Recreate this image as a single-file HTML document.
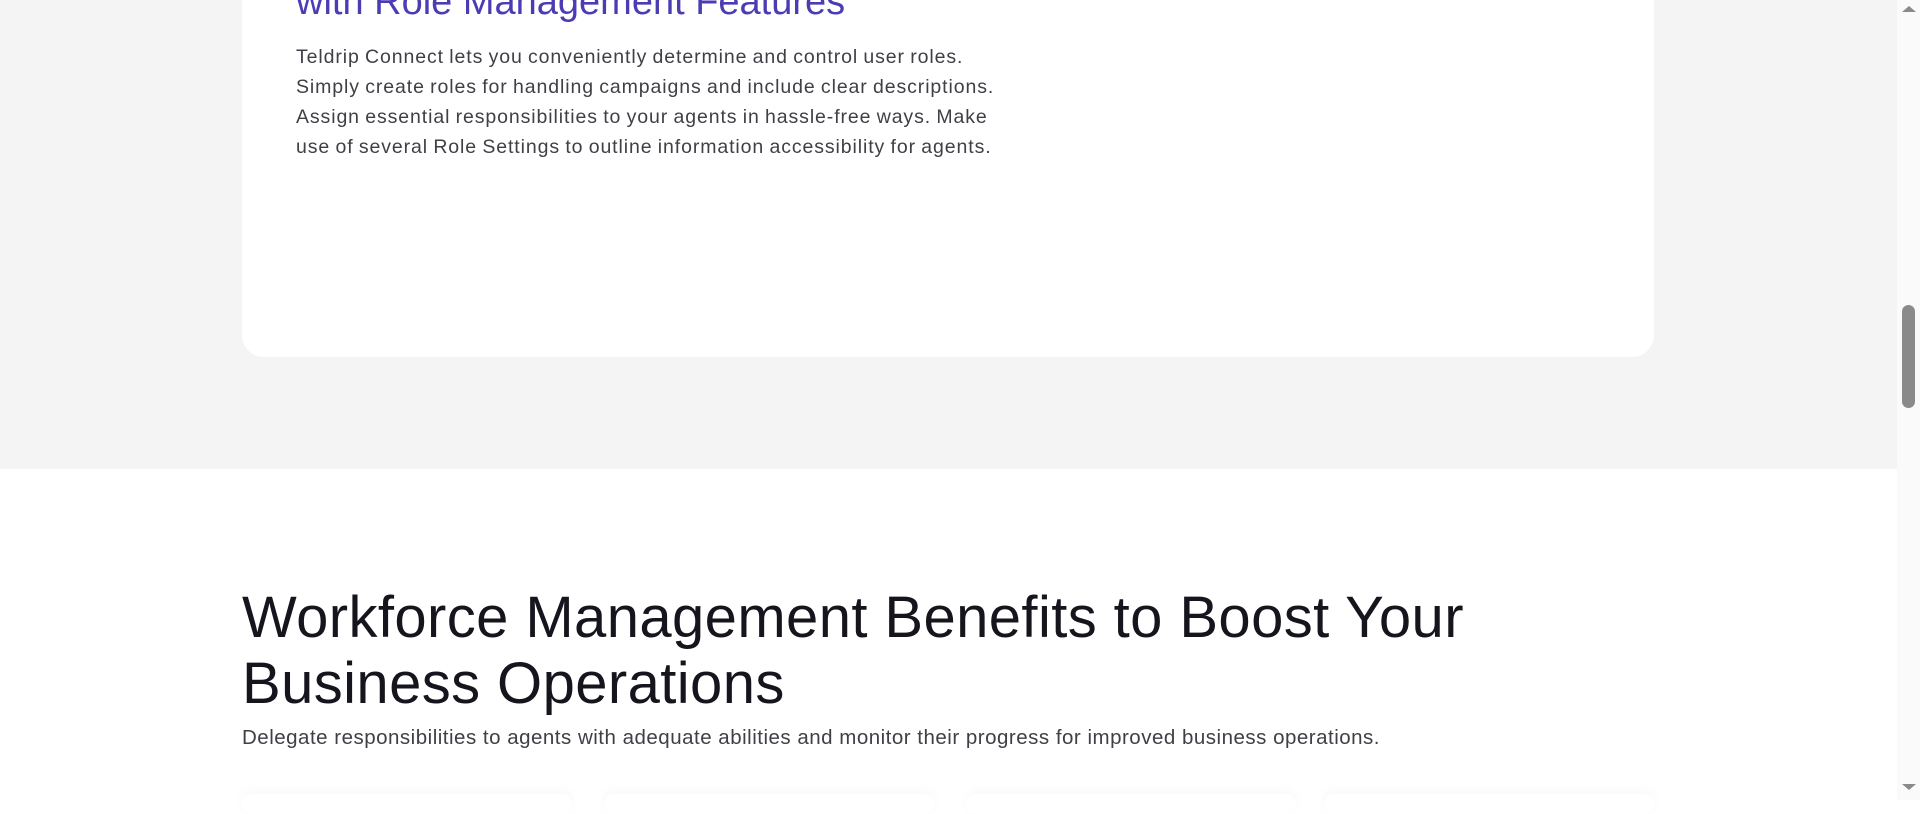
<!DOCTYPE html>
<html><head><style>
html,body{margin:0;padding:0;width:1920px;height:800px;overflow:hidden;background:#fff;font-family:"Liberation Sans",sans-serif;}
.gray{position:absolute;left:0;top:0;width:1897px;height:469px;background:#f4f4f4;}
.card{position:absolute;left:242px;top:-40px;width:1412px;height:397px;background:#fff;border-radius:22px;}
.h3{position:absolute;left:296px;top:-19px;font-size:38px;color:#4b3cb4;font-weight:500;white-space:nowrap;}
.p{position:absolute;left:296px;top:42px;font-size:19.5px;line-height:30px;color:#3f3f46;letter-spacing:0.9px;word-spacing:-1px;}
.h2{position:absolute;left:242px;top:585px;font-size:58px;line-height:66px;color:#16151d;font-weight:500;letter-spacing:0.4px;}
.sub{position:absolute;left:242px;top:726px;font-size:20.5px;color:#3f3f46;letter-spacing:0.5px;white-space:nowrap;}
.sb{position:absolute;left:1897px;top:0;width:23px;height:800px;background:#fafafa;}
.thumb{position:absolute;left:1902px;top:305px;width:13px;height:103px;background:#8a8a8a;border-radius:7px;}
.up{position:absolute;left:1902px;top:6px;width:0;height:0;border-left:7px solid transparent;border-right:7px solid transparent;border-bottom:6px solid #8a8a8a;}
.dn{position:absolute;left:1902px;top:784px;width:0;height:0;border-left:7px solid transparent;border-right:7px solid transparent;border-top:6px solid #8a8a8a;}
.c{position:absolute;top:794px;height:20px;width:330px;background:#fff;box-shadow:0 -3px 12px rgba(0,0,0,0.03);border-radius:12px;}
</style></head><body>
<div class="gray"></div>
<div class="card"></div>
<div class="h3">with Role Management Features</div>
<div class="p">Teldrip Connect lets you conveniently determine and control user roles.<br>Simply create roles for handling campaigns and include clear descriptions.<br>Assign essential responsibilities to your agents in hassle-free ways. Make<br>use of several Role Settings to outline information accessibility for agents.</div>
<div class="h2">Workforce Management Benefits to Boost Your<br>Business Operations</div>
<div class="sub">Delegate responsibilities to agents with adequate abilities and monitor their progress for improved business operations.</div>
<div class="c" style="left:242px"></div>
<div class="c" style="left:604px"></div>
<div class="c" style="left:966px"></div>
<div class="c" style="left:1324px"></div>
<div class="sb"></div><div class="thumb"></div><div class="up"></div><div class="dn"></div>
</body></html>
